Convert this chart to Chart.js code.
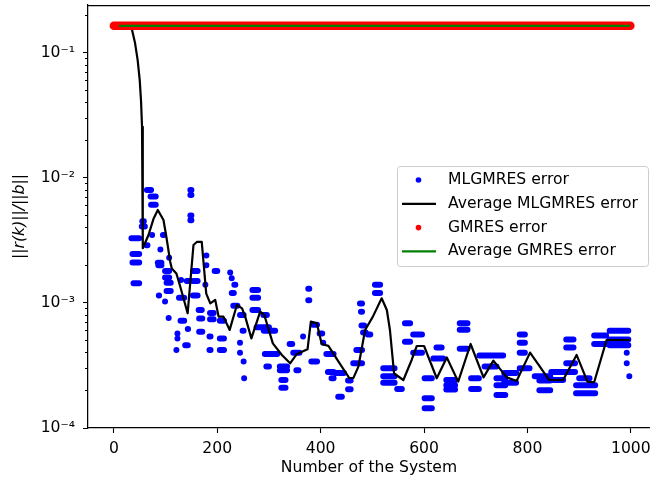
<!DOCTYPE html>
<html><head><meta charset="utf-8">
<script src="https://cdn.jsdelivr.net/npm/chart.js@4.4.0/dist/chart.umd.min.js"></script>
<style>html,body{margin:0;padding:0;background:#fff}#wrap{width:650px;height:485px;position:relative}</style>
</head><body><div id="wrap"><canvas id="c" width="650" height="485"></canvas></div>
<script>
// ---- Data ----
// MLGMRES error: runs of consecutive systems with the same error (start system, end system, error)
const mlgStart = [0,34,36,36,38,64,71,72,55,54,63,74,95,90,85,86,107,99,99,102,102,87,99,106,126,129,123,123,121,138,143,130,141,148,148,148,148,153,153,153,164,165,165,179,179,177,195,186,186,185,185,205,205,205,225,228,233,228,231,244,249,244,244,251,252,268,268,268,276,290,289,292,295,321,321,324,324,340,347,353,366,376,376,382,385,398,405,411,414,421,430,434,453,453,463,469,472,476,478,479,482,491,505,505,521,521,521,548,563,563,579,579,601,601,601,624,618,643,643,643,669,669,669,691,691,707,717,740,740,740,755,755,785,785,785,785,814,823,823,846,846,875,875,875,869,894,894,900,929,929,959,959,959,992,992,997];
const mlgEnd   = [20,49,49,49,49,72,81,81,58,60,65,74.5,97,90.5,92,92,107.5,107,107,110,110,87.5,99.5,106.5,136,136,123.5,123.5,121.5,143,143.5,130.5,147,150,150,150,150,162,162,162,170,171,171,179.5,179.5,177.5,200,193,193,187,187,213,213,213,225.5,228.5,235,232,239,251,251,245,245,251.5,252.5,279,279,279,300,312,296,316,300,335,335,332,332,345,359,357,367,378,378,393,393,403,406,425,425,425,445,441,458,458,468,480,480,480,480,484,487,496,515,515,543,543,543,557,573,573,596,596,615,615,615,634,637,660,660,660,684,684,684,706,706,753,740,757,757,757,778,778,795,795,795,804,844,844,844,869,869,889,889,892,892,931,931,920,952,952,995,995,995,992.5,992.5,997.5];
const mlgError = [0.165,3.3e-3,2.47e-3,2.11e-3,1.44e-3,8.0e-3,7.1e-3,6.1e-3,4.5e-3,4.1e-3,2.9e-3,3.5e-3,3.5e-3,2.68e-3,2.1e-3,2.0e-3,2.3e-3,1.8e-3,1.6e-3,1.45e-3,1.25e-3,1.15e-3,1.03e-3,7.6e-4,1.1e-3,7.2e-4,5.7e-4,5.2e-4,4.2e-4,4.6e-4,6.2e-4,1.53e-3,1.5e-3,8.0e-3,7.3e-3,5.0e-3,4.6e-3,1.8e-3,1.5e-3,1.15e-3,8.8e-4,7.5e-4,5.9e-4,2.4e-3,2.0e-3,1.4e-3,1.8e-3,8.3e-4,7.4e-4,5.4e-4,4.2e-4,7.2e-4,5.2e-4,4.2e-4,1.75e-3,1.58e-3,1.4e-3,1.2e-3,9.5e-4,8.0e-4,6.0e-4,4.8e-4,4.0e-4,3.4e-4,2.5e-4,1.27e-3,1.1e-3,8.8e-4,6.4e-4,6.0e-4,8.0e-4,3.9e-4,3.1e-4,3.1e-4,2.9e-4,2.42e-4,2.1e-4,4.7e-4,4.0e-4,2.9e-4,5.4e-4,1.3e-3,1.05e-3,3.4e-4,6.7e-4,5.7e-4,4.8e-4,3.9e-4,2.8e-4,2.5e-4,2.75e-4,1.78e-4,2.4e-4,2.04e-4,3.3e-4,4.2e-4,3.3e-4,9.9e-4,8.5e-4,6.6e-4,5.8e-4,5.6e-4,1.4e-3,1.2e-3,3.0e-4,2.6e-4,2.3e-4,2.05e-4,6.9e-4,4.9e-4,5.6e-4,4.0e-4,2.5e-4,1.73e-4,1.44e-4,4.4e-4,3.6e-4,2.42e-4,2.2e-4,2.03e-4,6.9e-4,6.1e-4,4.3e-4,2.5e-4,2.05e-4,3.8e-4,3.1e-4,2.5e-4,2.2e-4,1.84e-4,2.75e-4,2.3e-4,5.6e-4,4.8e-4,4.0e-4,3.0e-4,2.6e-4,2.4e-4,2.0e-4,2.8e-4,2.42e-4,5.1e-4,4.4e-4,3.3e-4,2.8e-4,2.2e-4,1.9e-4,2.5e-4,5.5e-4,4.7e-4,6.0e-4,5.1e-4,4.6e-4,4.0e-4,3.3e-4,2.6e-4];

// Average MLGMRES error
const avgMlgX = [10,28,35,41,46,50,52.5,54.5,55.7,56.2,67,77,85,96,101,109,112,121,128.5,142.7,154,161,170,178.7,186.5,196,202.6,212,224,238,248,254,266,283,291,307.5,325,341,354,374.6,381,392.6,402,415,434.5,455.7,463.4,473,486,501,518,528,534,542,560,576,586,600,624.5,644,666,690,715,734,760,779,805,824,842,869,895,916,929,953,998];
const avgMlgError = [0.165,0.162,0.154,0.12,0.088,0.061,0.042,0.0257,0.0139,0.00274,0.0035,0.00475,0.00555,0.00461,0.0035,0.00214,0.00189,0.00172,0.00135,0.000827,0.00291,0.00309,0.00308,0.00119,0.000993,0.00106,0.000778,0.000778,0.000609,0.000964,0.000906,0.000778,0.000521,0.000853,0.000802,0.000475,0.000384,0.000329,0.000391,0.000426,0.00071,0.000688,0.00047,0.000454,0.00034,0.00025,0.000252,0.00031,0.000608,0.000778,0.00109,0.000879,0.000608,0.000273,0.000242,0.00035,0.000453,0.000453,0.00025,0.000367,0.000235,0.00047,0.000254,0.000346,0.000254,0.000238,0.000401,0.00031,0.000242,0.000242,0.000384,0.000235,0.000232,0.000506,0.000506];

// GMRES error (constant over all systems) and its average
const gmresX = [0, 999];
const gmresError = [0.165, 0.165];
const avgGmresX = [10, 999];
const avgGmresError = [0.165, 0.165];

// Axis ticks
const xTicks = [0, 200, 400, 600, 800, 1000];
const yMajorTicks = [1e-4, 1e-3, 1e-2, 1e-1];
const yTickLabels = ['10\u207B\u2074', '10\u207B\u00B3', '10\u207B\u00B2', '10\u207B\u00B9'];
const yMinorTicks = [2e-4,3e-4,4e-4,5e-4,6e-4,7e-4,8e-4,9e-4,2e-3,3e-3,4e-3,5e-3,6e-3,7e-3,8e-3,9e-3,2e-2,3e-2,4e-2,5e-2,6e-2,7e-2,8e-2,9e-2,2e-1];

const seriesLabels = ['MLGMRES error', 'Average MLGMRES error', 'GMRES error', 'Average GMRES error'];

// ---- build chart ----
const FS = 15.6;
Chart.defaults.font.family = 'DejaVu Sans';
Chart.defaults.font.size = FS;
Chart.defaults.color = '#000';

function runs(x0, x1, v) {
  const out = [];
  for (let i = 0; i < v.length; i++) {
    out.push({x: x0[i], y: v[i]}, {x: x1[i], y: v[i]}, {x: x1[i], y: null});
  }
  return out;
}
function pts(xs, ys) { return xs.map((x, i) => ({x, y: ys[i]})); }

const legendEntries = [
  {kind: 'dot', color: '#0000ff'},
  {kind: 'line', color: '#000000'},
  {kind: 'dot', color: '#ff0000'},
  {kind: 'line', color: '#008000'}
];

const framePlugin = {
  id: 'frame',
  afterDraw(chart) {
    const {ctx, chartArea: a} = chart;
    ctx.save();
    ctx.strokeStyle = '#000'; ctx.lineWidth = 1.25;
    ctx.beginPath(); ctx.moveTo(a.left, a.top + 0.5); ctx.lineTo(a.right, a.top + 0.5); ctx.stroke();
    ctx.restore();
  }
};

const legendPlugin = {
  id: 'mplLegend',
  afterDraw(chart) {
    const ctx = chart.ctx;
    ctx.save();
    const bx = 397.5, by = 166.5, bw = 251, bh = 100;
    ctx.beginPath();
    ctx.roundRect(bx, by, bw, bh, 3);
    ctx.fillStyle = 'rgba(255,255,255,0.8)'; ctx.fill();
    ctx.strokeStyle = '#cccccc'; ctx.lineWidth = 1; ctx.stroke();
    const rows = [180, 203.8, 227.6, 251.4];
    ctx.font = FS + 'px "DejaVu Sans"';
    ctx.textBaseline = 'middle'; ctx.textAlign = 'left';
    legendEntries.forEach((e, i) => {
      const y = rows[i];
      if (e.kind === 'dot') {
        ctx.beginPath(); ctx.arc(418.5, y, 2.8, 0, Math.PI * 2);
        ctx.fillStyle = e.color; ctx.fill();
      } else {
        ctx.beginPath(); ctx.moveTo(402, y); ctx.lineTo(436, y);
        ctx.strokeStyle = e.color; ctx.lineWidth = 2.3; ctx.stroke();
      }
      ctx.fillStyle = '#000';
      ctx.fillText(chart.data.datasets[i].label, 448, y);
    });
    ctx.restore();
  }
};

new Chart(document.getElementById('c'), {
  type: 'scatter',
  data: {
    datasets: [
      {label: seriesLabels[0], data: runs(mlgStart, mlgEnd, mlgError), showLine: true, spanGaps: false,
       borderColor: '#0000ff', backgroundColor: '#0000ff', borderWidth: 6, borderCapStyle: 'round',
       pointRadius: 0, order: 3},
      {label: seriesLabels[1], data: pts(avgMlgX, avgMlgError), showLine: true,
       borderColor: '#000000', backgroundColor: '#000000', borderWidth: 2.2, borderJoinStyle: 'round',
       pointRadius: 0, order: 2},
      {label: seriesLabels[2], data: pts(gmresX, gmresError), showLine: true,
       borderColor: '#ff0000', backgroundColor: '#ff0000', borderWidth: 8.5, borderCapStyle: 'round',
       pointRadius: 0, order: 1},
      {label: seriesLabels[3], data: pts(avgGmresX, avgGmresError), showLine: true,
       borderColor: '#008000', backgroundColor: '#008000', borderWidth: 2.3,
       pointRadius: 0, order: 0}
    ]
  },
  options: {
    responsive: false, animation: false, devicePixelRatio: 1,
    layout: {padding: {top: 5, left: 0, right: 0, bottom: 0}},
    plugins: {legend: {display: false}, tooltip: {enabled: false}},
    scales: {
      x: {
        type: 'linear', min: -50, max: 1037, bounds: 'data',
        afterFit(s) { s.height = 57; s.paddingLeft = 0; s.paddingRight = 0; },
        afterBuildTicks(s) { s.ticks = xTicks.map(v => ({value: v})); },
        ticks: {autoSkip: false, maxRotation: 0, padding: 7, color: '#000', callback: v => String(v)},
        grid: {drawOnChartArea: false, drawTicks: true, tickLength: 5, tickColor: '#000', tickWidth: 1.1},
        border: {display: true, color: '#000', width: 1.25},
        title: {display: true, text: 'Number of the System', color: '#000', padding: {top: 0, bottom: 7.6}}
      },
      y: {
        type: 'logarithmic', min: 1e-4, max: 0.242, bounds: 'data',
        afterFit(s) { s.width = 88; s.paddingTop = 0; s.paddingBottom = 0; },
        afterBuildTicks(s) { s.ticks = yMajorTicks.concat(yMinorTicks).sort((a, b) => a - b).map(v => ({value: v})); },
        ticks: {autoSkip: false, padding: 8, color: '#000',
          callback: v => { const i = yMajorTicks.indexOf(v); return i >= 0 ? yTickLabels[i] : ''; }},
        grid: {drawOnChartArea: false, drawTicks: true, tickLength: 5, tickColor: '#000', tickWidth: 1.0,
          tickBorderDash: c => (c.tick && yMajorTicks.indexOf(c.tick.value) >= 0) ? [] : [0, 2, 3, 30]},
        border: {display: true, color: '#000', width: 1.25},
        title: {display: true, text: '||r(k)||/||b||', color: '#000', font: {style: 'italic'}, padding: {top: 10.6, bottom: 0}}
      }
    }
  },
  plugins: [framePlugin, legendPlugin]
});
</script></body></html>
